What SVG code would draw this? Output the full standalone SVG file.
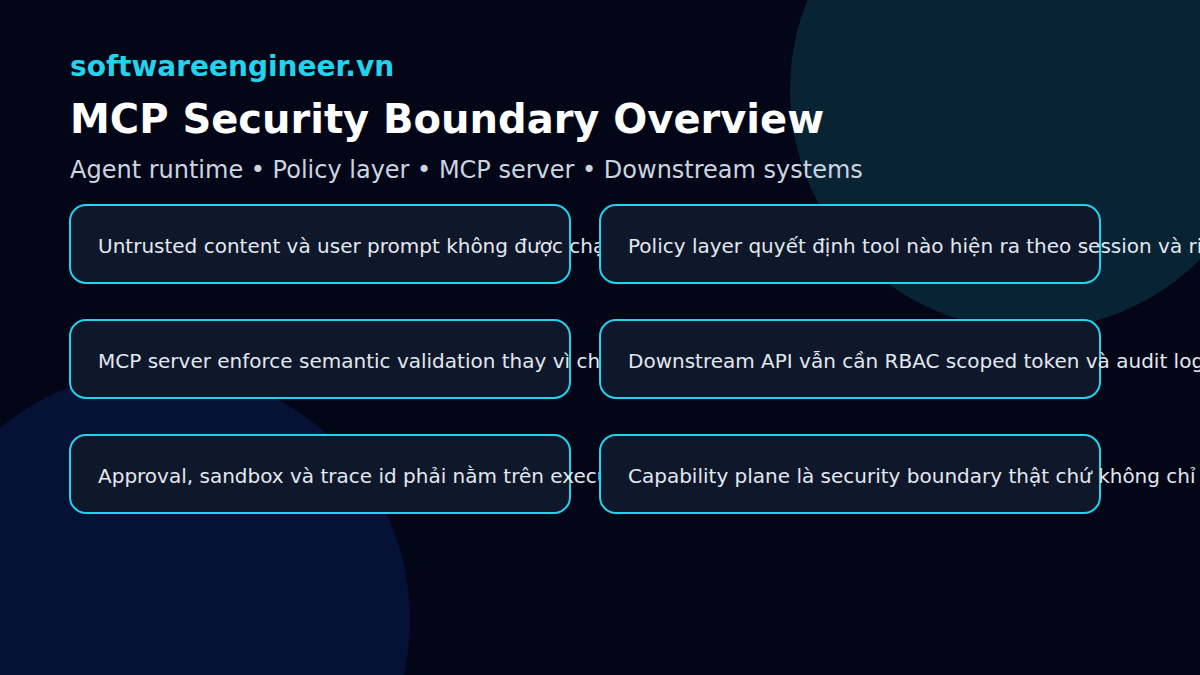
<svg xmlns="http://www.w3.org/2000/svg" width="1200" height="675" viewBox="0 0 1200 675">
<style>
.card rect{fill:#0f172a;stroke:#22d3ee;stroke-width:2}
.card text{font-family:"DejaVu Sans",sans-serif;font-size:20px;fill:#e2e8f0}
</style>
<rect width="1200" height="675" fill="#020617"/>
<circle cx="1030" cy="90" r="240" fill="#082334"/>
<circle cx="160" cy="620" r="250" fill="#061136"/>
<text x="70" y="76" font-family="DejaVu Sans,sans-serif" font-size="28" font-weight="bold" fill="#22d3ee">softwareengineer.vn</text>
<text x="70" y="133" font-family="DejaVu Sans,sans-serif" font-size="40" font-weight="bold" fill="#ffffff">MCP Security Boundary Overview</text>
<text x="70" y="178" font-family="DejaVu Sans,sans-serif" font-size="24" fill="#cbd5e1">Agent runtime • Policy layer • MCP server • Downstream systems</text>
<g id="card1" class="card"><rect x="70" y="205" width="500" height="78" rx="16"/><text x="98" y="253">Untrusted content và user prompt không được chạm</text></g>
<g id="card2" class="card"><rect x="600" y="205" width="500" height="78" rx="16"/><text x="628" y="253">Policy layer quyết định tool nào hiện ra theo session và risk</text></g>
<g id="card3" class="card"><rect x="70" y="320" width="500" height="78" rx="16"/><text x="98" y="368">MCP server enforce semantic validation thay vì chỉ</text></g>
<g id="card4" class="card"><rect x="600" y="320" width="500" height="78" rx="16"/><text x="628" y="368">Downstream API vẫn cần RBAC scoped token và audit log</text></g>
<g id="card5" class="card"><rect x="70" y="435" width="500" height="78" rx="16"/><text x="98" y="483">Approval, sandbox và trace id phải nằm trên execution</text></g>
<g id="card6" class="card"><rect x="600" y="435" width="500" height="78" rx="16"/><text x="628" y="483">Capability plane là security boundary thật chứ không chỉ</text></g>
<g id="connectors"/>
</svg>
